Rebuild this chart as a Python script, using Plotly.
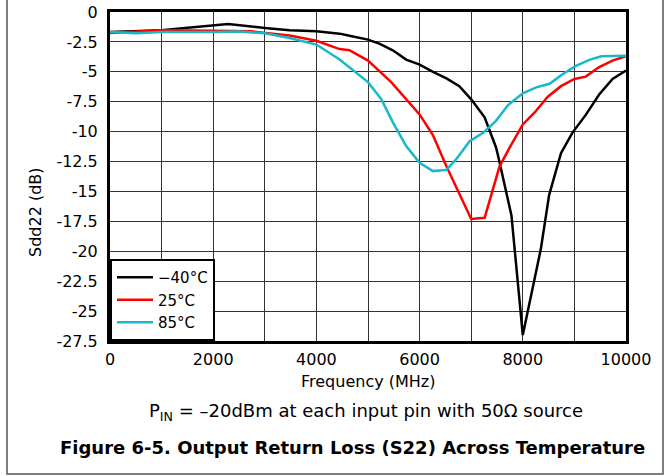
import plotly.graph_objects as go

# frequency points (MHz) and Sdd22 (dB)
freq_m40 = [0, 1000, 1300, 2000, 2290, 3000, 3480, 4000, 4450, 4640, 5000, 5230, 5480, 5740,
            6000, 6260, 6520, 6770, 7000, 7260, 7480, 7520, 7780, 8000, 8190, 8350, 8510,
            8740, 8960, 9220, 9480, 9740, 10000]
s22_m40 = [-1.67, -1.53, -1.4, -1.14, -1.0, -1.33, -1.53, -1.61, -1.81, -1.98, -2.31, -2.67, -3.2, -3.98,
           -4.4, -5.0, -5.55, -6.2, -7.3, -8.8, -11.3, -12.0, -17.0, -27.0, -23.1, -19.8, -15.3,
           -11.8, -10.1, -8.6, -6.9, -5.6, -4.9]

freq_25 = [0, 1000, 2000, 2700, 3480, 4000, 4450, 4640, 5000, 5450, 6000, 6260, 6520,
           7000, 7260, 7550, 7750, 8000, 8230, 8480, 8740, 9000, 9220, 9480, 9740, 10000]
s22_25 = [-1.75, -1.53, -1.56, -1.6, -1.97, -2.4, -3.1, -3.2, -4.06, -5.86, -8.56, -10.3, -12.9,
          -17.3, -17.2, -12.9, -11.3, -9.4, -8.4, -7.1, -6.2, -5.6, -5.4, -4.6, -4.06, -3.7]

freq_85 = [0, 500, 1000, 1500, 2000, 2500, 3000, 3480, 4000, 4450, 4640, 5000, 5260, 5480,
           5740, 6000, 6260, 6520, 6710, 6970, 7230, 7480, 7710, 8000, 8260, 8520, 8770,
           9030, 9290, 9520, 10000]
s22_85 = [-1.67, -1.78, -1.67, -1.7, -1.67, -1.64, -1.78, -2.17, -2.72, -3.97, -4.6, -5.86, -7.3, -9.2,
          -11.2, -12.6, -13.3, -13.2, -12.3, -10.8, -10.1, -9.1, -7.8, -6.8, -6.3, -6.0, -5.2,
          -4.5, -4.0, -3.7, -3.65]

series_names = ['\u221240\u00b0C', '25\u00b0C', '85\u00b0C']
x_ticks = [0, 2000, 4000, 6000, 8000, 10000]
x_labels = ['0', '2000', '4000', '6000', '8000', '10000']
y_ticks = [0, -2.5, -5, -7.5, -10, -12.5, -15, -17.5, -20, -22.5, -25, -27.5]
y_labels = ['0', '-2.5', '-5', '-7.5', '-10', '-12.5', '-15', '-17.5', '-20', '-22.5', '-25', '-27.5']

FONT = 'DejaVu Sans, Liberation Sans, Arial, sans-serif'

fig = go.Figure()
for name, x, y, col in [(series_names[0], freq_m40, s22_m40, 'black'),
                        (series_names[1], freq_25, s22_25, '#ff0000'),
                        (series_names[2], freq_85, s22_85, '#17b8c8')]:
    fig.add_trace(go.Scatter(x=x, y=y, name=name, mode='lines',
                             line=dict(color=col, width=2.5)))

# paper coords below are relative to the plot area (page px 110..626, 12..341)
def px(xp):
    return (xp - 110) / 516.0

def py(yp):
    return (341 - yp) / 329.0

fig.update_layout(
    width=665, height=476,
    margin=dict(l=110, r=39, t=12, b=135),
    paper_bgcolor='white', plot_bgcolor='white',
    font=dict(family=FONT, size=16, color='black'),
    showlegend=True,
    legend=dict(x=0, y=0, xanchor='left', yanchor='bottom',
                bgcolor='white', bordercolor='black', borderwidth=2,
                font=dict(size=15), tracegroupgap=0, itemwidth=36,
                traceorder='normal'),
    xaxis=dict(range=[0, 10000], tickvals=x_ticks, ticktext=x_labels,
               showgrid=True, gridcolor='#333', gridwidth=1,
               minor=dict(dtick=1000, showgrid=True, gridcolor='#333', gridwidth=1),
               showline=True, linecolor='black', linewidth=3, mirror=True,
               ticks='', zeroline=False, automargin=False, ticklabelstandoff=2,
               ticklabeloverflow='allow'),
    yaxis=dict(range=[-27.5, 0], tickvals=y_ticks, ticktext=y_labels,
               showgrid=True, gridcolor='#333', gridwidth=1,
               showline=True, linecolor='black', linewidth=3, mirror=True,
               ticks='', zeroline=False, automargin=False, ticklabelstandoff=6,
               ticklabeloverflow='allow'),
    annotations=[
        dict(text='Sdd22 (dB)', textangle=-90, x=px(35), y=py(212), xref='paper', yref='paper',
             xanchor='center', yanchor='middle', showarrow=False, font=dict(size=16)),
        dict(text='Frequency (MHz)', x=px(368), y=py(381), xref='paper', yref='paper',
             xanchor='center', yanchor='middle', showarrow=False, font=dict(size=16)),
        dict(text='P<sub>IN</sub> = \u201320dBm at each input pin with 50\u03a9 source',
             x=px(366), y=py(412), xref='paper', yref='paper', showarrow=False,
             xanchor='center', yanchor='middle', font=dict(size=18)),
        dict(text='<b>Figure 6-5. Output Return Loss (S22) Across Temperature</b>',
             x=px(352), y=py(447), xref='paper', yref='paper', showarrow=False,
             xanchor='center', yanchor='middle', font=dict(size=18)),
    ],
    shapes=[
        dict(type='path', xref='paper', yref='paper',
             path='M %f %f L %f %f L %f %f L %f %f' % (px(7), py(0), px(7), py(474),
                                                      px(663), py(474), px(663), py(0)),
             line=dict(color='#555', width=1.5)),
    ],
)

# drop the browser's default 8px body margin so the figure sits at the page corner
fig.write_html("out.html", config={'displayModeBar': False},
               post_script="document.body.style.margin='0';")
